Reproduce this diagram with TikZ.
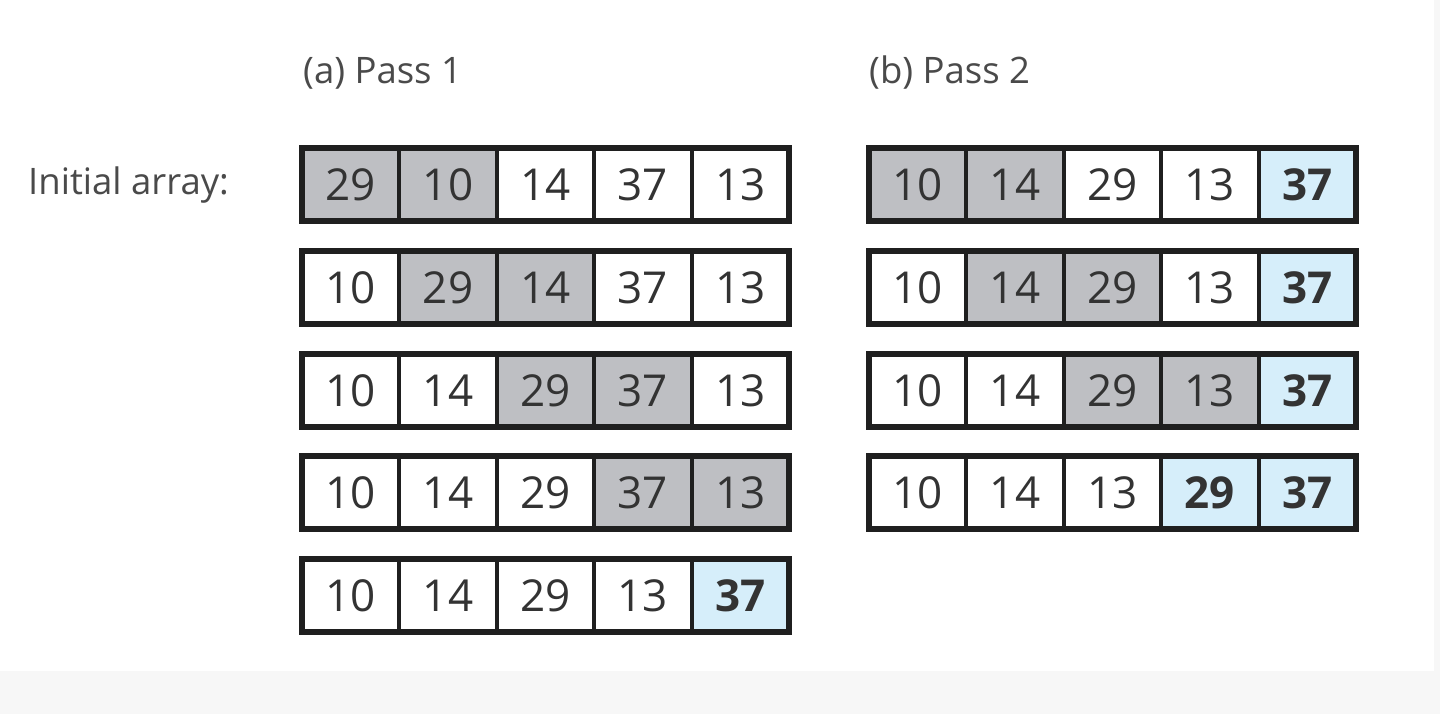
\documentclass[tikz,border=0pt]{standalone}
\usepackage{fontspec}
\setmainfont{Open Sans}
\definecolor{cellgray}{HTML}{BEBFC3}
\definecolor{cellblue}{HTML}{D6EEFA}
\definecolor{txt}{HTML}{333333}
\definecolor{lbl}{HTML}{4A4A4A}
\definecolor{pagebg}{HTML}{F7F7F7}
\tikzset{
  cell/.style={draw=black!88, line width=4pt, minimum width=97.4pt, minimum height=73pt,
    inner sep=0pt, outer sep=0pt, text=txt, font=\fontsize{44}{44}\selectfont, anchor=north west},
  hl/.style={fill=cellgray},
  done/.style={fill=cellblue, font=\fontsize{44}{44}\selectfont\bfseries},
  frame/.style={draw=black!88, line width=6pt},
  lab/.style={text=lbl, font=\fontsize{36.5}{36.5}\selectfont, inner sep=0pt}
}
\begin{document}
\begin{tikzpicture}[x=1pt,y=-1pt]
\useasboundingbox (0,0) rectangle (1440,714);
\fill[pagebg] (0,0) rectangle (1440,714);
\fill[white] (0,0) rectangle (1434,671);
\node[lab, anchor=west] (ttlA) at (303,73) {(a) Pass 1};
\node[lab, anchor=west] (ttlB) at (869,73) {(b) Pass 2};
\node[lab, anchor=west] (init) at (28,185) {Initial array:};
% Pass 1
\foreach \r/\y/\a/\sa/\b/\sb/\c/\sc/\d/\sd/\e/\se in {
  1/148/29/hl/10/hl/14/{}/37/{}/13/{},
  2/251/10/{}/29/hl/14/hl/37/{}/13/{},
  3/354/10/{}/14/{}/29/hl/37/hl/13/{},
  4/456/10/{}/14/{}/29/{}/37/hl/13/hl,
  5/559/10/{}/14/{}/29/{}/13/{}/37/done}{
  \node[cell,\sa] (a\r1) at (302,\y) {\a};
  \node[cell,\sb] (a\r2) at (a\r1.north east) {\b};
  \node[cell,\sc] (a\r3) at (a\r2.north east) {\c};
  \node[cell,\sd] (a\r4) at (a\r3.north east) {\d};
  \node[cell,\se] (a\r5) at (a\r4.north east) {\e};
  \draw[frame] (a\r1.north west) rectangle (a\r5.south east);
}
% Pass 2
\foreach \r/\y/\a/\sa/\b/\sb/\c/\sc/\d/\sd/\e/\se in {
  1/148/10/hl/14/hl/29/{}/13/{}/37/done,
  2/251/10/{}/14/hl/29/hl/13/{}/37/done,
  3/354/10/{}/14/{}/29/hl/13/hl/37/done,
  4/456/10/{}/14/{}/13/{}/29/done/37/done}{
  \node[cell,\sa] (b\r1) at (869,\y) {\a};
  \node[cell,\sb] (b\r2) at (b\r1.north east) {\b};
  \node[cell,\sc] (b\r3) at (b\r2.north east) {\c};
  \node[cell,\sd] (b\r4) at (b\r3.north east) {\d};
  \node[cell,\se] (b\r5) at (b\r4.north east) {\e};
  \draw[frame] (b\r1.north west) rectangle (b\r5.south east);
}
\end{tikzpicture}
\end{document}
